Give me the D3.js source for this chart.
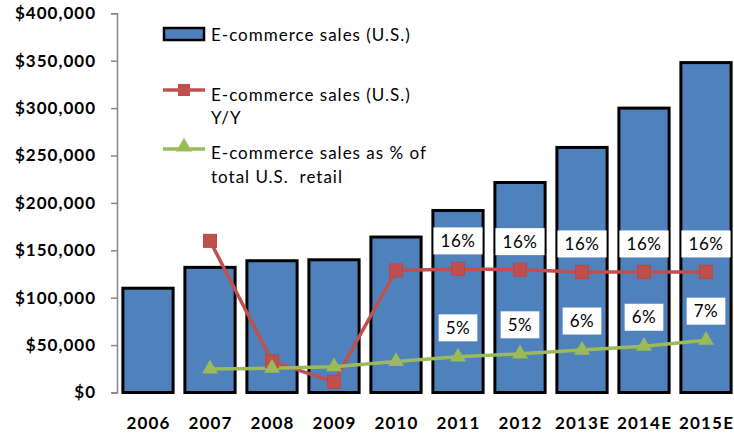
<!DOCTYPE html>
<html lang="en">
<head>
    <meta charset="UTF-8">
    <title>E-commerce sales</title>
    <script src="https://d3js.org/d3.v7.min.js"></script>
    <style>
        body { margin: 0; background: #fff; }
        svg { font-family: Lato, "Open Sans", sans-serif; }
    </style>
</head>
<body>
    <div id="chart"></div>

    <script>
        // values
        const years = ["2006", "2007", "2008", "2009", "2010", "2011", "2012", "2013E", "2014E", "2015E"];
        const sales = [110000, 132000, 139000, 140000, 164000, 192000, 221500, 258500, 300000, 348000];
        const yoy = [null, 0.200, 0.041, 0.014, 0.161, 0.163, 0.162, 0.159, 0.159, 0.159];
        const share = [null, 0.031, 0.032, 0.034, 0.041, 0.047, 0.051, 0.056, 0.061, 0.069];
        const labelledYears = ["2011", "2012", "2013E", "2014E", "2015E"];
        const yTicks = [0, 50000, 100000, 150000, 200000, 250000, 300000, 350000, 400000];

        const W = 734, H = 437;
        const svg = d3.select("#chart").append("svg")
            .attr("width", W)
            .attr("height", H);

        const x = d3.scaleBand()
            .domain(years)
            .range([117, 737])
            .paddingInner(0.19)
            .paddingOuter(0.095);

        const y = d3.scaleLinear()
            .domain([0, 400000])
            .range([392.5, 13.3]);

        // hidden secondary axis for the percentages
        const y2 = d3.scaleLinear()
            .domain([0, 0.5])
            .range([392.5, 13.3]);

        // bars
        svg.append("g")
            .selectAll("rect")
            .data(years)
            .join("rect")
            .attr("x", d => x(d))
            .attr("y", (d, i) => y(sales[i]))
            .attr("width", x.bandwidth())
            .attr("height", (d, i) => y(0) - y(sales[i]))
            .attr("fill", "#4f81bd")
            .attr("stroke", "#000")
            .attr("stroke-width", 3);

        // y axis
        const yAxis = svg.append("g")
            .attr("transform", "translate(117,0)")
            .call(d3.axisLeft(y).tickValues(yTicks).tickSize(6).tickPadding(16)
                .tickFormat(d => "$" + d3.format(",")(d)));
        yAxis.select(".domain").attr("stroke", "#868686").attr("stroke-width", 1.5);
        yAxis.selectAll(".tick line").attr("stroke", "#868686").attr("stroke-width", 1.5);
        yAxis.selectAll("text")
            .attr("fill", "#000")
            .attr("dx", 1)
            .style("font-size", "17px")
            .style("font-weight", "bold")
            .style("letter-spacing", "1px")
            .style("font-family", "Lato, sans-serif");

        // x labels
        svg.append("g")
            .selectAll("text")
            .data(years)
            .join("text")
            .attr("x", d => x(d) + x.bandwidth() / 2 + 0.5)
            .attr("y", 429)
            .attr("text-anchor", "middle")
            .style("font-size", "17px")
            .style("font-weight", "bold")
            .style("letter-spacing", "1.2px")
            .text(d => d);

        const cx = d => x(d) + x.bandwidth() / 2;

        function plotLine(values, color) {
            const pts = years.map((d, i) => ({ year: d, v: values[i] })).filter(p => p.v !== null);
            svg.append("path")
                .datum(pts)
                .attr("fill", "none")
                .attr("stroke", color)
                .attr("stroke-width", 3.5)
                .attr("d", d3.line().x(p => cx(p.year)).y(p => y2(p.v)));
            return pts;
        }

        const redPts = plotLine(yoy, "#c0504d");
        const greenPts = plotLine(share, "#9bbb59");

        svg.append("g")
            .selectAll("rect")
            .data(redPts)
            .join("rect")
            .attr("x", p => cx(p.year) - 6.5)
            .attr("y", p => y2(p.v) - 6.5)
            .attr("width", 13)
            .attr("height", 13)
            .attr("fill", "#c0504d")
            .attr("stroke", "#b84946")
            .attr("stroke-width", 1);

        const tri = d3.symbol().type(d3.symbolTriangle).size(110);
        svg.append("g")
            .selectAll("path")
            .data(greenPts)
            .join("path")
            .attr("transform", p => `translate(${cx(p.year)},${y2(p.v)})`)
            .attr("d", tri)
            .attr("fill", "#9bbb59");

        // data labels with white boxes
        function labels(pts, dy) {
            const g = svg.append("g");
            pts.filter(p => labelledYears.includes(p.year)).forEach(p => {
                const lx = cx(p.year), ly = y2(p.v) - dy;
                const t = g.append("text")
                    .attr("x", lx)
                    .attr("y", ly + 6)
                    .attr("text-anchor", "middle")
                    .style("font-size", "17px")
                    .style("letter-spacing", "0.6px")
                    .text(d3.format(".0%")(p.v));
                const b = t.node().getBBox();
                g.insert("rect", "text")
                    .attr("x", b.x - 7)
                    .attr("y", ly - 13.5)
                    .attr("width", b.width + 14)
                    .attr("height", 27)
                    .attr("fill", "#fff");
            });
        }
        labels(redPts, 28);
        labels(greenPts, 29);

        // legend
        const lg = svg.append("g");
        lg.append("rect")
            .attr("x", 164).attr("y", 28)
            .attr("width", 40).attr("height", 12)
            .attr("fill", "#4f81bd")
            .attr("stroke", "#000")
            .attr("stroke-width", 2.5);
        lg.append("line")
            .attr("x1", 163).attr("x2", 205).attr("y1", 90).attr("y2", 90)
            .attr("stroke", "#c0504d").attr("stroke-width", 3.5);
        lg.append("rect")
            .attr("x", 178).attr("y", 84).attr("width", 12).attr("height", 12)
            .attr("fill", "#c0504d");
        lg.append("line")
            .attr("x1", 163).attr("x2", 205).attr("y1", 149).attr("y2", 149)
            .attr("stroke", "#9bbb59").attr("stroke-width", 3.5);
        lg.append("path")
            .attr("transform", "translate(184,147)")
            .attr("d", tri)
            .attr("fill", "#9bbb59");

        const legendText = [
            ["E-commerce sales (U.S.)", 41],
            ["E-commerce sales (U.S.)", 101],
            ["Y/Y", 124],
            ["E-commerce sales as % of", 159],
            ["total U.S.  retail", 183]
        ];
        lg.selectAll("text")
            .data(legendText)
            .join("text")
            .attr("x", 211)
            .attr("y", d => d[1])
            .style("font-size", "17px")
            .style("letter-spacing", "1px")
            .style("white-space", "pre")
            .attr("xml:space", "preserve")
            .text(d => d[0]);
    </script>
</body>
</html>
